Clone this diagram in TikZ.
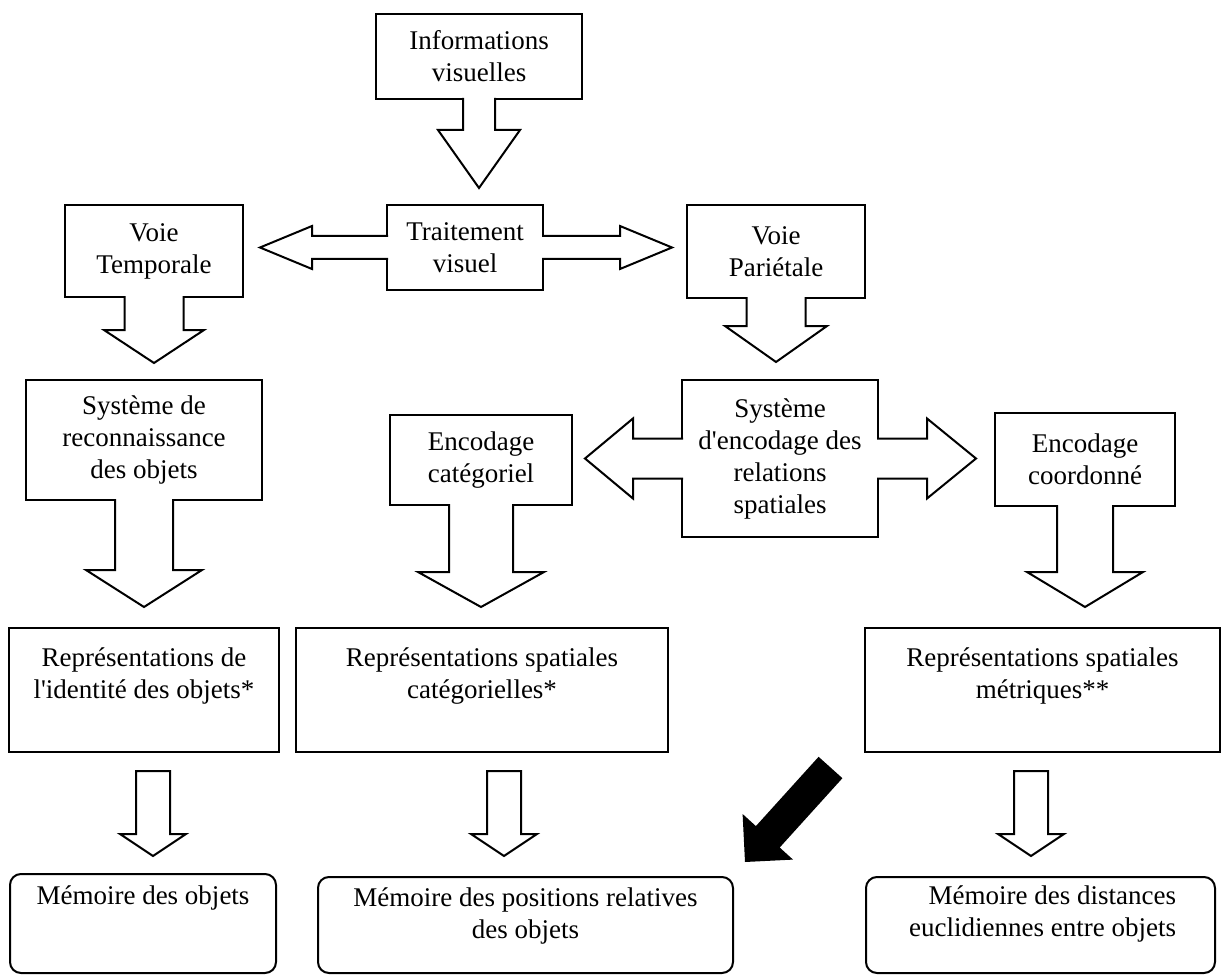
\documentclass[tikz,border=0pt]{standalone}
\usepackage{fontspec}
\setmainfont{Liberation Serif}
\usetikzlibrary{calc}
\newcommand\tfont{\fontsize{27}{32}\selectfont}
\newcommand\apos{\textquotesingle}
% down block arrow fused with a box: node, shaft half, base dist, tip dist, head half
\newcommand\blkdown[5]{%
 \fill[white] ($(#1.south)+(-#2,-3)$) -- ($(#1.south)+(-#2,#3)$) -- ($(#1.south)+(-#5,#3)$) -- ($(#1.south)+(0,#4)$) -- ($(#1.south)+(#5,#3)$) -- ($(#1.south)+(#2,#3)$) -- ($(#1.south)+(#2,-3)$) -- cycle;
 \draw[arrline] ($(#1.south)+(-#2,-1)$) -- ($(#1.south)+(-#2,#3)$) -- ($(#1.south)+(-#5,#3)$) -- ($(#1.south)+(0,#4)$) -- ($(#1.south)+(#5,#3)$) -- ($(#1.south)+(#2,#3)$) -- ($(#1.south)+(#2,-1)$);
}
\newcommand\blkleft[5]{%
 \fill[white] ($(#1.west)+(3,-#2)$) -- ($(#1.west)+(-#3,-#2)$) -- ($(#1.west)+(-#3,-#5)$) -- ($(#1.west)+(-#4,0)$) -- ($(#1.west)+(-#3,#5)$) -- ($(#1.west)+(-#3,#2)$) -- ($(#1.west)+(3,#2)$) -- cycle;
 \draw[arrline] ($(#1.west)+(1,-#2)$) -- ($(#1.west)+(-#3,-#2)$) -- ($(#1.west)+(-#3,-#5)$) -- ($(#1.west)+(-#4,0)$) -- ($(#1.west)+(-#3,#5)$) -- ($(#1.west)+(-#3,#2)$) -- ($(#1.west)+(1,#2)$);
}
\newcommand\blkright[5]{%
 \fill[white] ($(#1.east)+(-3,-#2)$) -- ($(#1.east)+(#3,-#2)$) -- ($(#1.east)+(#3,-#5)$) -- ($(#1.east)+(#4,0)$) -- ($(#1.east)+(#3,#5)$) -- ($(#1.east)+(#3,#2)$) -- ($(#1.east)+(-3,#2)$) -- cycle;
 \draw[arrline] ($(#1.east)+(-1,-#2)$) -- ($(#1.east)+(#3,-#2)$) -- ($(#1.east)+(#3,-#5)$) -- ($(#1.east)+(#4,0)$) -- ($(#1.east)+(#3,#5)$) -- ($(#1.east)+(#3,#2)$) -- ($(#1.east)+(-1,#2)$);
}
% small free-standing down arrow below a node: node, x offset
\newcommand\blksmall[2]{%
 \draw[arrline,fill=white] ($(#1.south)+(#2-17,19)$) -- ($(#1.south)+(#2-17,82)$) -- ($(#1.south)+(#2-33,82)$) -- ($(#1.south)+(#2,104)$) -- ($(#1.south)+(#2+33,82)$) -- ($(#1.south)+(#2+17,82)$) -- ($(#1.south)+(#2+17,19)$) -- cycle;
}
\begin{document}
\begin{tikzpicture}[x=1pt,y=-1pt,
  box/.style={draw,line width=2pt,fill=white,inner sep=0pt,outer sep=0pt,align=center,font=\tfont},
  rbox/.style={box,rounded corners=11pt},
  txt/.style={inner sep=0pt,outer sep=0pt,align=center,font=\tfont},
  arrline/.style={draw=black,line width=2pt,line join=miter}]
\fill[white] (0,0) rectangle (1223,976);
\useasboundingbox (0,0) rectangle (1223,976);

% boxes
\node[box,minimum width=206pt,minimum height=85pt] (info) at (479,56.5) {Informations\\visuelles};
\node[box,minimum width=156pt,minimum height=85pt] (trait) at (465,247.5) {Traitement\\visuel};
\node[box,minimum width=178pt,minimum height=92pt] (vt) at (154,251) {Voie\\Temporale};
\node[box,minimum width=178pt,minimum height=93pt] (vp) at (776,251.5) {Voie\\Pari\'etale};
\node[box,minimum width=236pt,minimum height=120pt] (sr) at (144,440) {Syst\`eme de\\reconnaissance\\des objets};
\node[box,minimum width=182pt,minimum height=90pt] (ec) at (481,460) {Encodage\\cat\'egoriel};
\node[box,minimum width=196pt,minimum height=157pt] (se) at (780,458.5) {Syst\`eme\\d\apos encodage des\\relations\\spatiales};
\node[box,minimum width=180pt,minimum height=93pt] (eco) at (1085,459.5) {Encodage\\coordonn\'e};

\node[box,minimum width=270pt,minimum height=124pt] (r1) at (144,690) {};
\node[box,minimum width=372pt,minimum height=124pt] (r2) at (482,690) {};
\node[box,minimum width=355pt,minimum height=124pt] (r3) at (1042.5,690) {};
\node[txt,anchor=north] (r1t) at (144,648) {Repr\'esentations de\\l\apos identit\'e des objets*};
\node[txt,anchor=north] (r2t) at (482,648) {Repr\'esentations spatiales\\cat\'egorielles*};
\node[txt,anchor=north] (r3t) at (1042.5,648) {Repr\'esentations spatiales\\m\'etriques**};

\node[rbox,minimum width=266pt,minimum height=99pt] (m1) at (143,923.5) {};
\node[rbox,minimum width=415pt,minimum height=96pt] (m2) at (525.5,925) {};
\node[rbox,minimum width=349pt,minimum height=96pt] (m3) at (1040.5,925) {};
\node[txt,anchor=north] (m1t) at (143,886) {M\'emoire des objets};
\node[txt,anchor=north] (m2t) at (525.5,888) {M\'emoire des positions relatives\\des objets};
\node[txt,anchor=north east,align=right] (m3t) at (1176,886) {M\'emoire des distances\\euclidiennes entre objets};

% fused block arrows
\blkdown{info}{16}{31}{89}{41}
\blkleft{trait}{11.5}{75}{127}{21.5}
\blkright{trait}{11.5}{77}{129}{21.5}
\blkdown{vt}{29.5}{33}{66}{50}
\blkdown{vp}{29.5}{28}{64}{51}
\blkdown{sr}{29}{70}{107}{58}
\blkleft{se}{20}{49}{97}{40}
\blkright{se}{20}{49}{98}{40}
\blkdown{ec}{32}{67}{102}{63}
\blkdown{eco}{28}{66}{101}{58}

% small arrows
\blksmall{r1}{9}
\blksmall{r2}{22}
\blksmall{r3}{-11.5}

% black arrow
\fill[black] (818.6,756.8) -- (755.9,826.1) -- (742.6,814.0) -- (745,862) -- (793.0,859.6) -- (779.7,847.5) -- (842.4,778.2) -- cycle;
\end{tikzpicture}
\end{document}
